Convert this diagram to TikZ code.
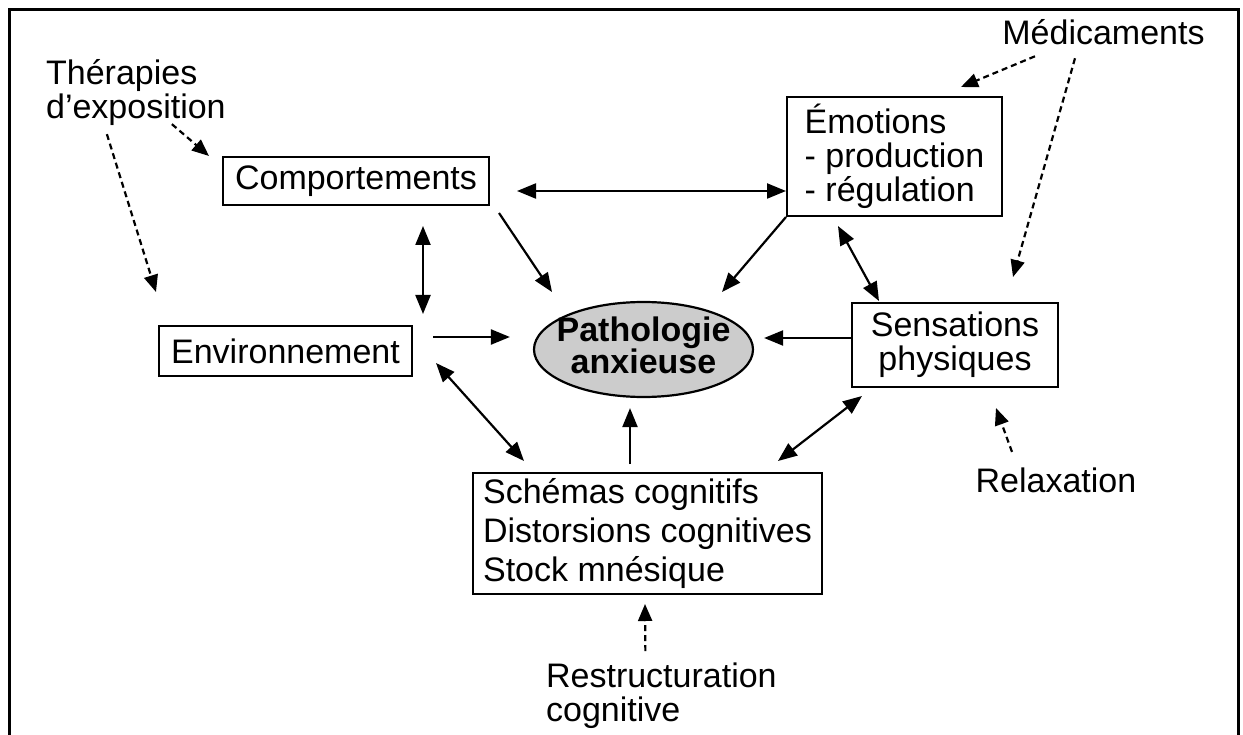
\documentclass[tikz,border=0pt]{standalone}
\usepackage{fontspec}
\setmainfont{Liberation Sans}
\usetikzlibrary{shapes.geometric,arrows.meta,calc}

\begin{document}
\begin{tikzpicture}[x=1pt, y=-1pt, line width=2.2pt,
			every node/.style={font=\fontsize{34}{34}\selectfont, inner sep=0pt, align=left},
			box/.style={draw, line width=2pt},
			conn/.style={-{Triangle[length=19pt,width=15pt]}},
			both/.style={{Triangle[length=19pt,width=15pt]}-{Triangle[length=19pt,width=15pt]}},
			hint/.style={dash pattern=on 6pt off 4pt, -{Triangle[length=17pt,width=14pt]}}]
			 \useasboundingbox (0,0) rectangle (1243,735);
			 \draw[line width=3pt] (9,745) -- (9,10) -- (1238,10) -- (1238,745);
			 % boxes
			 \node[box, minimum width=266, minimum height=48] (comp)at(356,181) {Comportements};
			 \node[box, minimum width=215, minimum height=119] (emo)at(894.5,156.5) {Émotions\\- production\\- régulation};
			 \node[box, minimum width=253, minimum height=50] (env)at(285.5,351) {Environnement};
			 \node[box, minimum width=206, minimum height=84, align=center] (sens)at(955,345) {Sensations\\physiques};
			 \node[box, minimum width=349, minimum height=121, font=\fontsize{34}{39}\selectfont] (schem)at(647.5,533.5) {Schémas cognitifs\\Distorsions cognitives\\Stock mnésique};
			 \node[draw, ellipse, fill=black!20, minimum width=219, minimum height=95, inner xsep=-40pt, inner ysep=-20pt, align=center, font=\fontsize{34}{32}\selectfont\bfseries] (patho)at(643.5,349.5) {Pathologie\\anxieuse\strut};
			 % therapies
			 \node[anchor=west] (ther)at(45,93) {Thérapies\\d’exposition};
			 \node (medic)at(1103.5,32.5) {Médicaments};
			 \node (relax)at(1056,480.5) {Relaxation};
			 \node[anchor=west] (restr)at(545,696) {Restructuration\\cognitive};
			 % links
			 \draw[both] ($(comp.east)+(27,10)$) -- ($(comp.east -| emo.west)+(0,10)$);
			 \draw[conn] ($(comp.south east)+(9,7)$) -- ($(patho)+(-91.5,-57.5)$);
			 \draw[conn] (emo.south west) -- ($(patho)+(78.5,-57.5)$);
			 \draw[both] ($(comp.south east)+(-67,20)$) -- ($(env.north east)+(10,-11)$);
			 \draw[conn] ($(env.east)+(20,-14)$) -- ($(patho.west)+(-23,-12.5)$);
			 \draw[conn] ($(sens.west)+(0,-7)$) -- ($(patho.east)+(10,-11.5)$);
			 \draw[both] ($(emo.south)+(-56.5,9)$) -- ($(sens.north)+(-76,-1)$);
			 \draw[both] ($(env.east)+(23,12)$) -- ($(schem.north west)+(52,-11)$);
			 \draw[conn] ($(schem.north)+(-17.5,-8)$) -- ($(patho.south)+(-13.5,10)$);
			 \draw[both] ($(schem.north east)+(-45,-11)$) -- ($(sens.south west)+(11,8)$);
			 % treatments
			 \draw[hint] ($(ther.south)+(36,-3)$) -- ($(comp.north west)+(-13,0)$);
			 \draw[hint] ($(ther.south)+(-29,7)$) -- ($(env.north west)+(-2,-33)$);
			 \draw[hint] ($(medic.south)+(-68.5,10)$) -- ($(emo.north east)+(-42,-9)$);
			 \draw[hint] ($(medic.south)+(-28.5,12)$) -- ($(sens.north east)+(-46,-25)$);
			 \draw[hint] ($(relax.north)+(-44,-15)$) -- ($(sens.south east)+(-63,20)$);
			 \draw[hint] ($(restr.north)+(-16,-11)$) -- ($(schem.south)+(-2.5,9)$);
		\end{tikzpicture}
\end{document}
